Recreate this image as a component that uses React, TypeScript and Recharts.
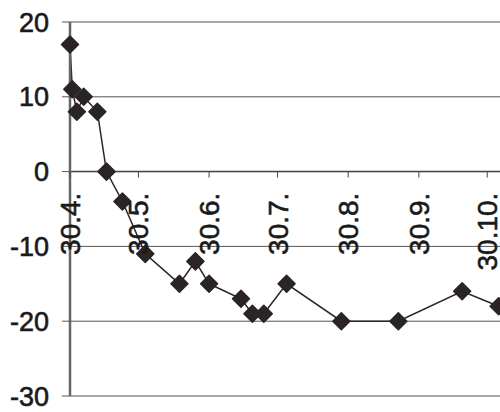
import { LineChart, Line, XAxis, YAxis, CartesianGrid, ReferenceLine } from "recharts";

const days = [0, 1, 3, 6, 12, 16, 23, 33, 48, 55, 61, 75, 80, 85, 95, 119, 144, 172, 188];
const values = [17, 11, 8, 10, 8, 0, -4, -11, -15, -12, -15, -17, -19, -19, -15, -20, -20, -16, -18];

const tickDays = [0, 30, 61, 91, 122, 153, 183];
const tickLabels = ["30.4.", "30.5.", "30.6.", "30.7.", "30.8.", "30.9.", "30.10."];
const yTicks = [-30, -20, -10, 0, 10, 20];

const W = 500;
const H = 412;
const TOP = 22;
const BOTTOM = 16;
const PLOT_H = H - TOP - BOTTOM;
const Y_MIN = -30;
const Y_MAX = 20;
const ZERO_Y = TOP + (PLOT_H * Y_MAX) / (Y_MAX - Y_MIN);

const data = days.map((d, i) => ({ day: d, value: values[i] }));

const FONT = "'Liberation Sans', Arial, sans-serif";

function Diamond(props: any) {
  const { cx, cy } = props;
  if (cx == null || cy == null) return null;
  const r = 8.5;
  return (
    <polygon
      points={`${cx},${cy - r} ${cx + r},${cy} ${cx},${cy + r} ${cx - r},${cy}`}
      fill="#2a2424"
      stroke="#2a2424"
      strokeWidth={1.5}
      strokeLinejoin="round"
    />
  );
}

function MonthTick(props: any) {
  const { x, payload } = props;
  const i = tickDays.indexOf(payload.value);
  const label = i >= 0 ? tickLabels[i] : "";
  return (
    <g>
      <line x1={x} x2={x} y1={ZERO_Y} y2={ZERO_Y + 6} stroke="#444" strokeWidth={1} />
      <text
        transform={`translate(${x},${ZERO_Y + 21}) rotate(-90)`}
        textAnchor="end"
        dy="0.36em"
        fontSize={28}
        fontFamily={FONT}
        fill="#1a1a1a"
        stroke="#1a1a1a"
        strokeWidth={0.6}
      >
        {label}
      </text>
    </g>
  );
}

export default function App() {
  return (
    <div style={{ position: "absolute", left: 0, top: 0, width: W, height: H, overflow: "hidden", background: "#fff" }}>
      <LineChart width={W} height={H} data={data} margin={{ top: TOP, right: 0, bottom: 0, left: 0 }}>
        <CartesianGrid vertical={false} stroke="#555" strokeWidth={1} />
        <XAxis
          dataKey="day"
          type="number"
          domain={[0, 188.6]}
          ticks={tickDays}
          axisLine={false}
          tickLine={false}
          height={BOTTOM}
          tick={<MonthTick />}
          interval={0}
        />
        <YAxis
          type="number"
          domain={[Y_MIN, Y_MAX]}
          ticks={yTicks}
          width={70}
          tickSize={8}
          tickMargin={13}
          axisLine={{ stroke: "#666", strokeWidth: 2.5 }}
          tickLine={{ stroke: "#555" }}
          tick={{ fontSize: 27, fontFamily: FONT, fill: "#1a1a1a", stroke: "#1a1a1a", strokeWidth: 0.6 }}
        />
        <ReferenceLine y={0} stroke="#444" strokeWidth={1.5} />
        <Line
          type="linear"
          dataKey="value"
          stroke="#2a2424"
          strokeWidth={1.5}
          dot={<Diamond />}
          activeDot={false}
          isAnimationActive={false}
        />
      </LineChart>
    </div>
  );
}
